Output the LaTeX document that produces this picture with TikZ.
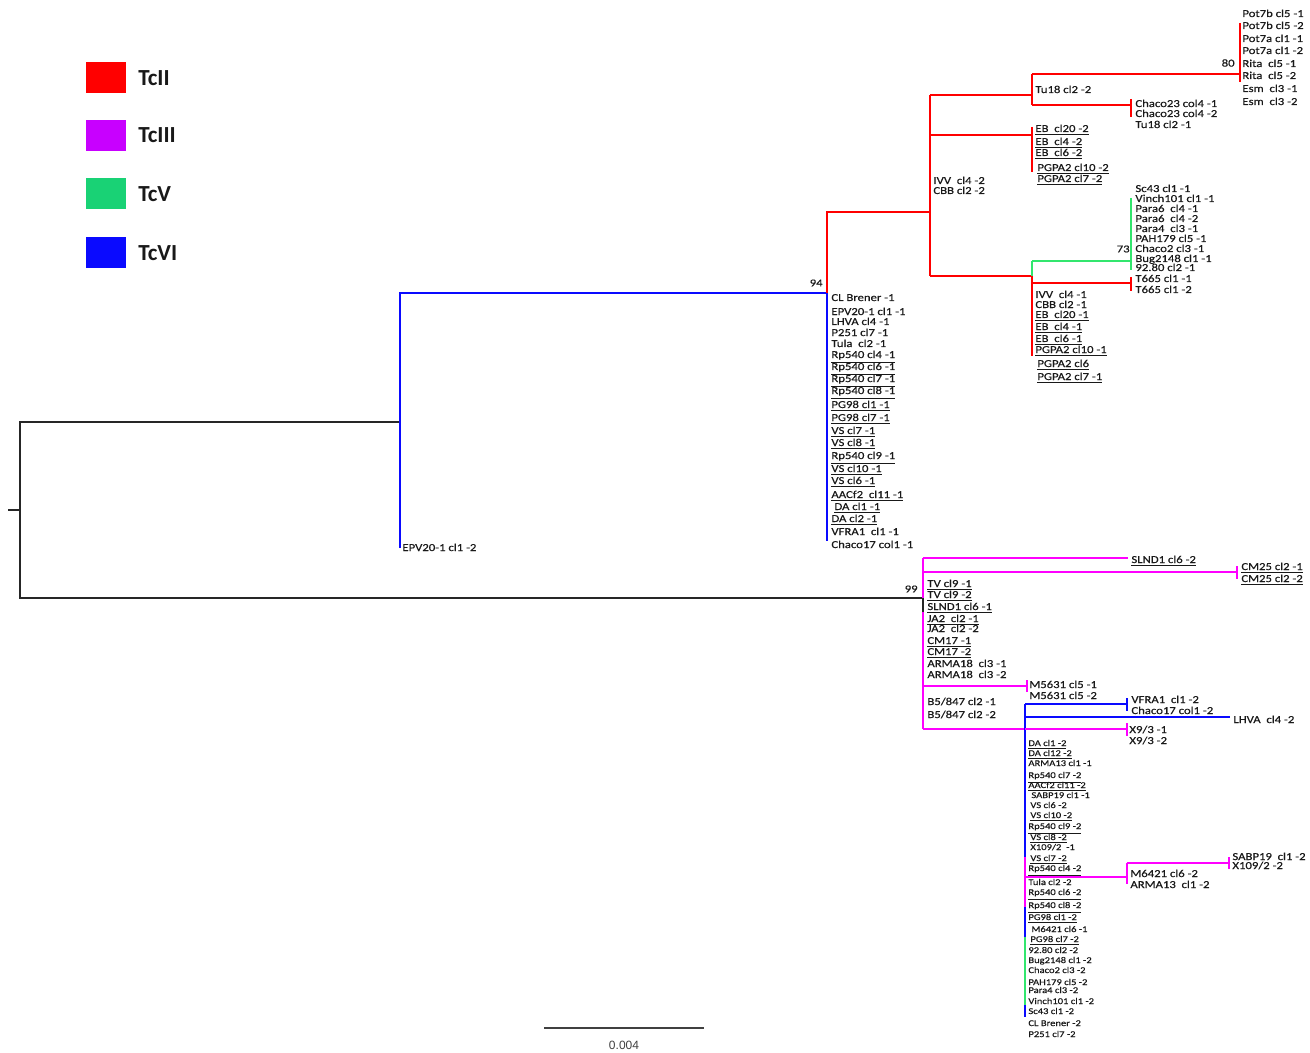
\documentclass[tikz,border=0pt]{standalone}
\usepackage{fontspec}
\setmainfont{Carlito}
\newfontfamily\lblfont[FakeStretch=1.2,FakeBold=0.5]{Carlito}
\newfontfamily\sclfont{Liberation Sans}
\newcommand\uu[1]{\underline{#1}}
\newcommand\lf[4]{\node[lbl] (#1) at (#2,#3) {#4};}
\newcommand\lfs[4]{\node[lbls] (#1) at (#2,#3) {#4};}
\definecolor{tcred}{RGB}{255,0,0}
\definecolor{tcmag}{RGB}{255,0,255}
\definecolor{tcgrn}{RGB}{50,230,110}
\definecolor{tcblu}{RGB}{10,10,255}
\definecolor{legpur}{RGB}{200,0,255}
\definecolor{leggrn}{RGB}{25,210,117}
\definecolor{txt}{RGB}{25,25,25}
\begin{document}
\begin{tikzpicture}[x=0.5pt,y=-0.5pt,
  brn/.style={line width=1.25pt},
  rdb/.style={brn,draw=tcred},
  mgb/.style={brn,draw=tcmag},
  grb/.style={brn,draw=tcgrn},
  blb/.style={brn,draw=tcblu},
  bkb/.style={line width=1.1pt,draw=black!85},
  lbl/.style={anchor=west,inner sep=0pt,text=txt,text height=0.7em,text depth=0.2em,font=\lblfont\fontsize{5.3}{6}\selectfont},
  lbls/.style={lbl,font=\lblfont\fontsize{4.4}{5}\selectfont},
  bsv/.style={anchor=east,inner sep=0pt,text=txt,font=\lblfont\fontsize{5.3}{6}\selectfont},
  legsq/.style={draw=none,minimum width=20pt,minimum height=15.5pt,inner sep=0pt},
  legtx/.style={anchor=west,inner sep=0pt,text=txt,font=\bfseries\fontsize{11.5}{12}\selectfont}]
\useasboundingbox (0,0) rectangle (1310,1053);

% ---------- legend ----------
\node[legsq,fill=tcred]  (k1) at (106,78) {};
\node[legsq,fill=legpur] (k2) at (106,136) {};
\node[legsq,fill=leggrn] (k3) at (106,194) {};
\node[legsq,fill=tcblu]  (k4) at (106,253) {};
\node[legtx] (t1) at (138,78) {TcII};
\node[legtx] (t2) at (138,135) {TcIII};
\node[legtx] (t3) at (138,194) {TcV};
\node[legtx] (t4) at (138,253) {TcVI};

% ---------- tree: coordinates ----------
\coordinate (stub) at (8,510);
\coordinate (root) at (20,510);
\coordinate (nA) at (400,422);
\coordinate (nAt) at (400,293);
\coordinate (nAb) at (400,548);
\coordinate (nB) at (923,598);
\coordinate (nBt) at (923,558);
\coordinate (nBb) at (923,729);
\coordinate (nBk) at (923,612);
\coordinate (n94) at (827,293);
\coordinate (n94b) at (827,541);
\coordinate (n930) at (930,212);
\coordinate (n930t) at (930,95);
\coordinate (n930b) at (930,276);
\coordinate (nTu) at (1032,95);
\coordinate (nTut) at (1032,74);
\coordinate (nTub) at (1032,105);
\coordinate (n80) at (1240,74);
\coordinate (n80t) at (1240,23);
\coordinate (n80b) at (1240,82);
\coordinate (nCh) at (1131,105);
\coordinate (nCht) at (1131,99);
\coordinate (nChb) at (1131,117);
\coordinate (nEB) at (1032,135);
\coordinate (nEBt) at (1032,127);
\coordinate (nEBb) at (1032,172);
\coordinate (nLo) at (1032,276);
\coordinate (nLot) at (1032,261);
\coordinate (nLob) at (1032,356);
\coordinate (n73) at (1131,261);
\coordinate (n73t) at (1131,198);
\coordinate (n73b) at (1131,270);
\coordinate (nT6) at (1131,283);
\coordinate (nT6t) at (1131,277);
\coordinate (nT6b) at (1131,291);
\coordinate (sl2e) at (1128,558);
\coordinate (nCM) at (1237,572);
\coordinate (nCMt) at (1237,566);
\coordinate (nCMb) at (1237,579);
\coordinate (nM5) at (1027,686);
\coordinate (nM5t) at (1027,680);
\coordinate (nM5b) at (1027,692);
\coordinate (nX) at (1025,729);
\coordinate (nXt) at (1025,704);
\coordinate (nX1) at (1025,857);
\coordinate (nX2) at (1025,907);
\coordinate (nX3) at (1025,937);
\coordinate (nX4) at (1025,1005);
\coordinate (nXb) at (1025,1017);
\coordinate (nVF) at (1127,704);
\coordinate (nVFt) at (1127,698);
\coordinate (nVFb) at (1127,711);
\coordinate (lhe) at (1230,717);
\coordinate (nX9) at (1127,729);
\coordinate (nX9t) at (1127,723);
\coordinate (nX9b) at (1127,736);
\coordinate (nM6) at (1127,877);
\coordinate (nM6t) at (1127,863);
\coordinate (nM6b) at (1127,884);
\coordinate (nSA) at (1229,863);
\coordinate (nSAt) at (1229,857);
\coordinate (nSAb) at (1229,869);

% ---------- tree: branches ----------
\draw[bkb] (stub) -- (root);
\draw[bkb] (nA) -| (root) |- (nB);
% TcVI / TcII part
\draw[blb] (nAb) -- (nAt) -- (n94) -- (n94b);
\draw[rdb] (n94) |- (n930);
\draw[rdb] (n930t) -- (n930b);
\draw[rdb] (n930t) -- (nTu);
\draw[rdb] (nTut) -- (nTub);
\draw[rdb] (nTut) -- (n80);
\draw[rdb] (n80t) -- (n80b);
\draw[rdb] (nTub) -- (nCh);
\draw[rdb] (nCht) -- (nChb);
\draw[rdb] (n930t |- nEB) -- (nEB);
\draw[rdb] (nEBt) -- (nEBb);
\draw[rdb] (n930b) -- (nLo);
\draw[rdb] (nLo) -- (nLob);
\draw[grb] (nLot) -- (nLo);
\draw[grb] (nLot) -- (n73);
\draw[grb] (n73t) -- (n73b);
\draw[rdb] (nLo |- nT6) -- (nT6);
\draw[rdb] (nT6t) -- (nT6b);
% TcIII part
\draw[mgb] (nBt) -- (nBb);
\draw[bkb] (nB) -- (nBk);
\draw[mgb] (nBt) -- (sl2e);
\draw[mgb] (nBt |- nCM) -- (nCM);
\draw[mgb] (nCMt) -- (nCMb);
\draw[mgb] (nBt |- nM5) -- (nM5);
\draw[mgb] (nM5t) -- (nM5b);
\draw[mgb] (nBb) -- (nX);
\draw[blb] (nXt) -- (nX1);
\draw[mgb] (nX1) -- (nX2);
\draw[blb] (nX2) -- (nX3);
\draw[grb] (nX3) -- (nX4);
\draw[blb] (nX4) -- (nXb);
\draw[blb] (nXt) -- (nVF);
\draw[blb] (nVFt) -- (nVFb);
\draw[blb] (nXt |- lhe) -- (lhe);
\draw[mgb] (nX) -- (nX9);
\draw[mgb] (nX9t) -- (nX9b);
\draw[mgb] (nX |- nM6) -- (nM6);
\draw[mgb] (nM6t) -- (nM6b);
\draw[mgb] (nM6t) -- (nSA);
\draw[mgb] (nSAt) -- (nSAb);

% ---------- support values ----------
\node[bsv] (b94) at (823,283) {94};
\node[bsv] (b80) at (1235,63) {80};
\node[bsv] (b73) at (1130,249) {73};
\node[bsv] (b99) at (918,589) {99};

% ---------- leaves: TcII top ----------
\lf{p1}{1242}{12}{Pot7b cl5 -1}
\lf{p2}{1242}{24}{Pot7b cl5 -2}
\lf{p3}{1242}{37}{Pot7a cl1 -1}
\lf{p4}{1242}{49}{Pot7a cl1 -2}
\lf{p5}{1242}{62}{Rita\ \ cl5 -1}
\lf{p6}{1242}{74}{Rita\ \ cl5 -2}
\lf{p7}{1242}{87}{Esm\ \ cl3 -1}
\lf{p8}{1242}{100}{Esm\ \ cl3 -2}
\lf{tu2}{1035}{88}{Tu18 cl2 -2}
\lf{c1}{1135}{102}{Chaco23 col4 -1}
\lf{c2}{1135}{112}{Chaco23 col4 -2}
\lf{tu1}{1135}{123}{Tu18 cl2 -1}
\lf{e1}{1035}{127}{\uu{EB\ \ cl20 -2}}
\lf{e2}{1035}{140}{\uu{EB\ \ cl4 -2}}
\lf{e3}{1035}{151}{\uu{EB\ \ cl6 -2}}
\lf{e4}{1037}{166}{\uu{PGPA2 cl10 -2}}
\lf{e5}{1037}{177}{\uu{PGPA2 cl7 -2}}
\lf{iv2}{933}{179}{IVV\ \ cl4 -2}
\lf{cb2}{933}{189}{CBB cl2 -2}
% TcV
\lf{g1}{1135}{187}{Sc43 cl1 -1}
\lf{g2}{1135}{197}{Vinch101 cl1 -1}
\lf{g3}{1135}{207}{Para6\ \ cl4 -1}
\lf{g4}{1135}{217}{Para6\ \ cl4 -2}
\lf{g5}{1135}{227}{Para4\ \ cl3 -1}
\lf{g6}{1135}{237}{PAH179 cl5 -1}
\lf{g7}{1135}{247}{Chaco2 cl3 -1}
\lf{g8}{1135}{257}{Bug2148 cl1 -1}
\lf{g9}{1135}{266}{92.80 cl2 -1}
\lf{t61}{1135}{277}{T665 cl1 -1}
\lf{t62}{1135}{288}{T665 cl1 -2}
% TcII lower
\lf{r1}{1035}{293}{IVV\ \ cl4 -1}
\lf{r2}{1035}{303}{CBB cl2 -1}
\lf{r3}{1035}{313}{\uu{EB\ \ cl20 -1}}
\lf{r4}{1035}{325}{\uu{EB\ \ cl4 -1}}
\lf{r5}{1035}{337}{\uu{EB\ \ cl6 -1}}
\lf{r6}{1035}{348}{\uu{PGPA2 cl10 -1}}
\lf{r7}{1037}{362}{\uu{PGPA2 cl6}}
\lf{r8}{1037}{375}{\uu{PGPA2 cl7 -1}}
% TcVI upper polytomy
\lf{v1}{831}{296}{CL Brener -1}
\lf{v2}{831}{310}{EPV20-1 cl1 -1}
\lf{v3}{831}{320}{LHVA cl4 -1}
\lf{v4}{831}{331}{P251 cl7 -1}
\lf{v5}{831}{342}{Tula\ \ cl2 -1}
\lf{v6}{831}{353}{\uu{Rp540 cl4 -1}}
\lf{v7}{831}{365}{\uu{Rp540 cl6 -1}}
\lf{v8}{831}{377}{\uu{Rp540 cl7 -1}}
\lf{v9}{831}{389}{\uu{Rp540 cl8 -1}}
\lf{v10}{831}{403}{\uu{PG98 cl1 -1}}
\lf{v11}{831}{416}{\uu{PG98 cl7 -1}}
\lf{v12}{831}{429}{\uu{VS cl7 -1}}
\lf{v13}{831}{441}{\uu{VS cl8 -1}}
\lf{v14}{831}{454}{\uu{Rp540 cl9 -1}}
\lf{v15}{831}{467}{\uu{VS cl10 -1}}
\lf{v16}{831}{479}{\uu{VS cl6 -1}}
\lf{v17}{831}{493}{\uu{AACf2\ \ cl11 -1}}
\lf{v18}{834}{505}{\uu{DA cl1 -1}}
\lf{v19}{831}{517}{\uu{DA cl2 -1}}
\lf{v20}{831}{530}{VFRA1\ \ cl1 -1}
\lf{v21}{831}{543}{Chaco17 col1 -1}
\lf{ep2}{402}{546}{EPV20-1 cl1 -2}
% TcIII
\lf{s2}{1131}{558}{\uu{SLND1 cl6 -2}}
\lf{cm1}{1241}{565}{\uu{CM25 cl2 -1}}
\lf{cm2}{1241}{577}{\uu{CM25 cl2 -2}}
\lf{m1}{927}{582}{\uu{TV\ cl9 -1}}
\lf{m2}{927}{593}{\uu{TV\ cl9 -2}}
\lf{m3}{927}{605}{\uu{SLND1 cl6 -1}}
\lf{m4}{927}{617}{\uu{JA2\ \ cl2 -1}}
\lf{m5}{927}{627}{JA2\ \ cl2 -2}
\lf{m6}{927}{639}{\uu{CM17 -1}}
\lf{m7}{927}{650}{\uu{CM17 -2}}
\lf{m8}{927}{662}{ARMA18\ \ cl3 -1}
\lf{m9}{927}{673}{ARMA18\ \ cl3 -2}
\lf{m10}{927}{700}{B5/847 cl2 -1}
\lf{m11}{927}{713}{B5/847 cl2 -2}
\lf{ms1}{1029}{683}{M5631 cl5 -1}
\lf{ms2}{1029}{694}{M5631 cl5 -2}
\lf{vf2}{1131}{698}{VFRA1\ \ cl1 -2}
\lf{ch2}{1131}{709}{Chaco17 col1 -2}
\lf{lh2}{1233}{718}{LHVA\ \ cl4 -2}
\lf{x1}{1129}{728}{X9/3 -1}
\lf{x2}{1129}{739}{X9/3 -2}
\lf{sb2}{1232}{855}{SABP19\ \ cl1 -2}
\lf{xb2}{1232}{864}{X109/2 -2}
\lf{mm2}{1130}{872}{M6421 cl6 -2}
\lf{ar2}{1130}{883}{ARMA13\ \ cl1 -2}
% lower polytomy
\lfs{w1}{1028}{741}{\uu{DA\ cl1 -2}}
\lfs{w2}{1028}{751}{\uu{DA\ cl12 -2}}
\lfs{w3}{1028}{761}{ARMA13\ cl1 -1}
\lfs{w4}{1028}{773}{\uu{Rp540 cl7 -2}}
\lfs{w5}{1028}{783}{\uu{AACf2 cl11 -2}}
\lfs{w6}{1031}{793}{SABP19 cl1 -1}
\lfs{w7}{1030}{803}{VS cl6 -2}
\lfs{w8}{1030}{813}{\uu{VS cl10 -2}}
\lfs{w9}{1028}{824}{\uu{Rp540 cl9 -2}}
\lfs{w10}{1030}{835}{\uu{VS cl8 -2}}
\lfs{w11}{1030}{845}{X109/2\ \ -1}
\lfs{w12}{1030}{856}{\uu{VS cl7 -2}}
\lfs{w13}{1028}{866}{\uu{Rp540 cl4 -2}}
\lfs{w14}{1028}{880}{Tula cl2 -2}
\lfs{w15}{1028}{890}{\uu{Rp540 cl6 -2}}
\lfs{w16}{1028}{903}{\uu{Rp540 cl8 -2}}
\lfs{w17}{1028}{915}{\uu{PG98 cl1 -2}}
\lfs{w18}{1031}{927}{M6421 cl6 -1}
\lfs{w19}{1030}{937}{\uu{PG98 cl7 -2}}
\lfs{w20}{1028}{948}{92.80 cl2 -2}
\lfs{w21}{1028}{958}{Bug2148 cl1\ -2}
\lfs{w22}{1028}{968}{Chaco2\ cl3 -2}
\lfs{w23}{1028}{980}{PAH179 cl5 -2}
\lfs{w24}{1028}{988}{Para4\ cl3 -2}
\lfs{w25}{1028}{999}{Vinch101 cl1\ -2}
\lfs{w26}{1028}{1009}{Sc43 cl1 -2}
\lfs{w27}{1028}{1021}{CL Brener\ -2}
\lfs{w28}{1028}{1032}{P251 cl7 -2}

% ---------- scale bar ----------
\coordinate (sc1) at (544,1028);
\coordinate (sc2) at (704,1028);
\draw[line width=0.9pt,draw=black!75] (sc1) -- (sc2);
\node[inner sep=0pt,text=black!75,font=\sclfont\fontsize{6}{7}\selectfont] (sct) at (624,1045) {0.004};
\end{tikzpicture}
\end{document}
